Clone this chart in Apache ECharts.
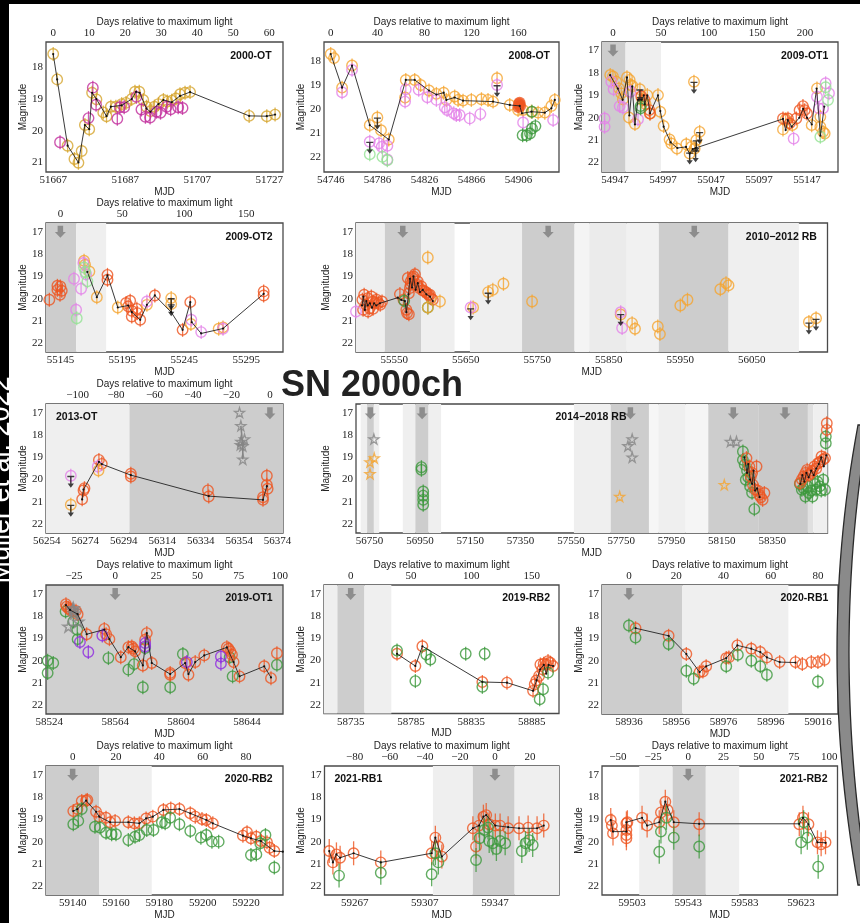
<!DOCTYPE html>
<html><head><meta charset="utf-8">
<script src="https://cdn.jsdelivr.net/npm/echarts@6/dist/echarts.min.js"></script>
<style>html,body{margin:0;padding:0;background:#fff}#c{width:860px;height:923px}</style>
</head><body><div id="c"></div>
<script>
// ---------------- DATA (MJD, magnitude) ----------------
// 2000-OT
const a_gold = [[51667,17.58],[51668.1,18.38],[51671.0,20.47],[51672.9,20.89],[51674.0,21.01],[51674.9,20.64],[51675.8,19.82],[51677.0,19.95],[51677.8,18.8],[51679.0,19.01],[51680.9,19.42],[51681.8,19.54],[51683.0,19.24],[51684.4,19.24],[51686.0,19.16],[51687.2,19.12],[51688.8,19.0],[51689.7,18.77],[51690.9,18.77],[51692.0,19.03],[51692.9,19.24],[51694.0,19.38],[51695.1,19.24],[51696.2,19.16],[51697.6,19.03],[51698.7,19.08],[51699.9,19.05],[51701.1,18.98],[51702.2,18.85],[51703.6,18.8],[51705.0,18.78],[51721.4,19.53],[51726.3,19.54],[51728.6,19.49]];
const a_magenta = [[51668.9,20.36],[51676.8,19.6],[51678.0,18.64],[51678.9,19.18],[51684.8,19.62],[51685.5,19.26],[51686.7,19.26],[51690.1,18.93],[51691.5,19.33],[51692.6,19.56],[51693.9,19.58],[51695.7,19.4],[51696.8,19.43],[51698.5,19.24],[51699.6,19.32],[51701.7,19.26],[51702.9,19.28]];
const a_line = [[51667,17.58],[51668.1,18.38],[51671,20.47],[51674,21.0],[51675.8,19.82],[51677,19.95],[51677.8,18.8],[51679,19.0],[51681.8,19.54],[51683,19.24],[51686,19.2],[51688.8,19.0],[51690,18.77],[51691,18.8],[51692.9,19.3],[51694,19.4],[51696.2,19.16],[51697.6,19.03],[51699.9,19.1],[51702.2,18.9],[51705,18.78],[51721.4,19.53],[51726.3,19.54],[51728.6,19.49]];
// 2008-OT
const b_orange = [[54746,17.69],[54748.8,17.86],[54755.7,19.09],[54764.2,18.17],[54779.3,20.65],[54785.8,20.33],[54788.9,20.86],[54795.5,21.25],[54809.4,19.5],[54810,18.77],[54817.6,18.77],[54822.7,18.98],[54829.8,19.21],[54836.1,19.35],[54842.3,19.3],[54844.6,19.6],[54851.7,19.46],[54854.6,19.6],[54858.8,19.63],[54865.9,19.6],[54874.5,19.57],[54880.1,19.6],[54884.4,19.67],[54887.8,18.7],[54898.6,19.81],[54905.7,20.02],[54910,20.02],[54917.1,20.09],[54922.8,20.13],[54928.5,20.13],[54934.1,19.85],[54937,19.6]];
const b_violet = [[54755.7,19.28],[54764.2,18.35],[54779.3,21.34],[54787.2,21.41],[54789.5,21.55],[54794.3,21.51],[54794.3,22.08],[54809.4,19.67],[54810,19.16],[54821,19.18],[54828.4,19.49],[54836.1,19.6],[54843.2,19.91],[54845.2,20.02],[54850.9,20.16],[54853.1,20.23],[54855.9,20.23],[54864.5,20.37],[54873.6,20.19],[54887.8,18.98],[54910,20.54],[54935.6,20.44],[54940.7,18.39]];
const b_lgreen = [[54779.3,21.86],[54790.1,21.97],[54794.3,22.11]];
const b_green = [[54909.6,21.07],[54913,21.07],[54915.9,21.0],[54917.6,20.79],[54920.5,20.69],[54917.6,20.09]];
const b_red = [[54906.5,19.77],[54907.5,19.85],[54906,19.9],[54907,19.72]];
const b_limits = [[54785.8,20.33],[54779.3,21.34],[54887.8,18.98]];
const b_line = [[54746,17.69],[54755.7,19.09],[54764.2,18.17],[54779.3,20.65],[54795.5,21.25],[54810,18.77],[54817.6,18.77],[54829.8,19.21],[54836.1,19.38],[54842.3,19.3],[54844.6,19.6],[54851.7,19.5],[54858.8,19.63],[54884.4,19.67],[54898.6,19.81],[54907.1,19.85],[54909,20.16],[54917.1,20.09],[54928.5,20.13],[54934.1,19.95],[54937,19.6]];
// 2009-OT1
const c_orange = [[54942.1,18.09],[54944.9,18.16],[54948.4,18.39],[54951.2,18.69],[54953.6,18.91],[54955.3,19.18],[54959.5,18.19],[54962.3,18.31],[54963.3,18.54],[54965.2,18.58],[54961.6,19.99],[54967.8,20.28],[54973.0,18.73],[54975.5,19.21],[54978.9,19.39],[54980.7,18.99],[54983.5,19.81],[54991.8,18.99],[54994.2,19.73],[54997.7,20.37],[55003.9,20.97],[55005.7,21.15],[55011.6,21.37],[55021.3,21.18],[55024.8,21.6],[55026.5,21.3],[55030.0,21.37],[55031.7,21.0],[55035.2,20.63],[55029.3,18.39],[55122.0,20.52],[55124.8,20.07],[55131.7,20.33],[55151.9,20.33],[55157.4,18.69],[55160.9,19.96],[55160.9,20.4],[55163.7,20.63],[55165.4,20.7]];
const c_violet = [[54943.2,18.39],[54945.6,18.73],[54951.9,19.48],[54955.3,19.54],[54963.0,18.84],[54971.0,20.07],[54936.2,20.03],[54936.2,20.4],[55133.1,20.93],[55157.4,19.06],[55159.4,19.58],[55163.7,19.58],[55166.4,18.46],[55169.9,18.91]];
const c_red = [[54974.4,19.04],[54977.8,19.21],[54982.8,19.66],[54983.5,19.81],[55122.0,20.03],[55127.2,20.03],[55128.9,20.25],[55135.9,20.03],[55139.3,19.66],[55142.8,19.48],[55144.6,19.66],[55147.0,19.81]];
const c_green = [[54973.7,19.58],[54973.7,19.48]];
const c_lgreen = [[55166.4,18.64],[55168.9,19.21],[55160.9,20.85]];
const c_limits = [[55029.3,18.39],[54973,18.73],[55031.7,21.0],[55035.2,20.63],[55024.8,21.55],[55031,21.45]];
const c_line = [[54942,18.1],[54950,18.7],[54955,19.2],[54959.5,18.2],[54962,19.9],[54965,18.6],[54967.8,20.3],[54971,19.2],[54975,19.2],[54977,19.0],[54978,19.4],[54980.7,19.0],[54983.5,19.8],[54991.8,19.0],[54994.2,19.7],[54997.7,20.4],[55005,21.1],[55012,21.35],[55021,21.3],[55024.8,21.6],[55028,21.4],[55031,21.35],[55122,20.05],[55124.8,20.55],[55127,20.1],[55131,20.4],[55139,20.0],[55143,19.6],[55147,20.0],[55152,20.3],[55157,18.7],[55161,20.8],[55165,19.5]];
// 2009-OT2
const d_red = [[55136.1,20.04],[55142.6,19.42],[55142.6,19.6],[55144.7,19.82],[55146.1,19.64],[55145,19.45],[55183,18.93],[55183,19.15],[55198,20.19],[55201.3,20.09],[55199.7,20.34],[55202.6,20.54],[55206.7,20.45],[55202.6,20.79],[55207.2,20.64],[55209.4,20.94],[55221.2,19.85],[55243.6,21.39],[55249.8,20.15],[55309,19.67],[55309,19.85]];
const d_orange = [[55164.1,18.3],[55164.9,18.48],[55168.4,18.78],[55174.4,19.93],[55191.3,20.39],[55214.8,20.27],[55234.4,19.97],[55234.4,20.24],[55250.3,21.13],[55272.7,21.34],[55276.2,21.28]];
const d_violet = [[55156,19.1],[55161.7,19.55],[55157.7,20.49],[55163.6,18.4],[55165.7,18.9],[55214.8,20.12],[55250.6,20.94],[55258.6,21.49],[55276.2,21.34]];
const d_lgreen = [[55158.2,20.87],[55164.1,18.6],[55166.8,19.22],[55165.2,18.8]];
const d_limits = [[55234.4,19.97],[55234.4,20.24]];
const d_line = [[55166.8,18.8],[55174.4,19.93],[55183,18.95],[55191.3,20.39],[55199.7,20.3],[55202.6,20.6],[55209.4,20.94],[55214.8,20.27],[55221.2,19.85],[55234.4,20.6],[55243.6,21.39],[55249.8,20.15],[55251,21.05],[55258.6,21.55],[55276.2,21.33],[55309,19.78]];
// 2010-2012 RB
const e_red = [[55505.5,20.04],[55508,19.82],[55510.5,20.27],[55513,19.97],[55515.5,20.42],[55518,19.9],[55520.5,20.12],[55523,20.19],[55525.5,20.04],[55528,20.19],[55530.5,20.27],[55533,20.12],[55506.5,20.49],[55513.5,20.57],[55520.5,20.45],[55558,19.79],[55563,20.04],[55568,20.64],[55567,20.49],[55570.5,20.69],[55570.5,19.75],[55573,19.37],[55575.5,19.07],[55579,18.9],[55583,19.22],[55588,19.45],[55593,19.67],[55598,19.82],[55601.5,19.97],[55604,20.04],[55573,19.22],[55577,19.0],[55582,19.37],[55585,19.52],[55590,19.63],[55595,19.73],[55600,19.82],[55569,19.07],[55572,19.52]];
const e_green = [[55564,20.09],[55597,20.39]];
const e_orange = [[55597,18.15],[55614,20.12],[55597,20.39],[55660.4,20.39],[55681.4,19.7],[55687.9,19.6],[55702.8,19.33],[55742.8,20.12],[55866.7,20.7],[55882.7,21.09],[55886.7,21.34],[55918.6,21.24],[55921.6,21.58],[55950.1,20.3],[55960.1,20.04],[56006,19.57],[56014,19.3],[56017.5,19.4],[56129.9,21.04],[56139.9,20.87]];
const e_violet = [[55496.6,20.57],[55656.9,20.39],[55866.7,20.6],[55868.7,21.31]];
const e_limits = [[55656.9,20.42],[55681.4,19.72],[55866.7,20.68],[56129.9,21.06],[56139.9,20.89]];
const e_line = [[55505,20.3],[55507,19.9],[55509,20.5],[55511,20.1],[55513,20.3],[55516,20.2],[55519,20.4],[55522,20.2],[55525,20.3],[55530,20.2],[55555,19.95],[55560,20.05],[55565,20.1],[55567,20.6],[55570,19.8],[55572,19.1],[55575,19.5],[55577,19.0],[55580,19.6],[55583,19.3],[55586,19.7],[55590,19.6],[55595,19.8],[55600,19.9],[55604,20.1]];
// 2013-OT
const f_red = [[56272.4,20.89],[56273.1,20.49],[56273.6,20.39],[56281.1,19.11],[56282.6,19.29],[56297.7,19.74],[56297.7,19.86],[56337.8,20.49],[56338.2,20.77],[56366.4,20.8],[56366.4,20.92],[56368.4,19.83],[56368.4,20.24],[56368.8,20.42]];
const f_violet = [[56266.5,19.83],[56280.5,19.41]];
const f_orange = [[56266.5,21.14],[56280.9,19.59]];
const f_stars = [[56354.2,16.97],[56354.9,17.57],[56354.9,18.28],[56355.9,18.48],[56356.8,18.17],[56355.9,19.08],[56354.6,18.43]];
const f_starline = [[56354.9,17.57],[56355.9,18.48],[56355.9,19.08]];
const f_limits = [[56266.5,19.83],[56266.5,21.14]];
const f_line = [[56272.4,20.9],[56273.1,20.45],[56281.1,19.2],[56282.6,19.3],[56297.7,19.8],[56338.2,20.75],[56366.4,20.92],[56368.4,20.3]];
// 2014-2018 RB
const g_ostars = [[56751.4,19.21],[56768.5,19.03],[56751.4,19.74],[57743.8,20.77],[58159.7,20.24]];
const g_gstars = [[56767,18.17],[57776.5,18.48],[57793.5,18.17],[57793.5,18.99],[58183.9,18.28],[58208,18.28]];
const g_green = [[56955.9,19.44],[56955.9,19.56],[56963,20.54],[56963,20.73],[56963,20.92],[56963,21.14],[58233.6,18.73],[58233.6,19.11],[58240.7,19.33],[58245,20.01],[58279,21.34],[58250,19.6],[58255,19.9],[58262,20.3],[58270,20.6],[58467.8,20.46],[58482,20.77],[58496,20.61],[58510,20.77],[58524.6,20.46],[58539,20.31],[58553,20.01],[58560,20.46],[58563,18.05],[58563,18.36],[58460,20.2],[58475,20.4],[58490,20.3],[58505,20.5],[58520,20.2],[58545,20.5],[58530,20.1]];
const g_red = [[58247.8,19.03],[58259,19.41],[58265,19.86],[58273.6,20.24],[58287.8,19.41],[58283.6,20.46],[58298,20.69],[58312,20.92],[58319,20.61],[58293,20.5],[58270,19.7],[58305,20.8],[58460.7,20.16],[58475,19.86],[58489,19.56],[58503,19.71],[58517.6,19.41],[58531.7,19.26],[58546,18.96],[58560,19.03],[58567,17.45],[58567,17.75],[58468,20.0],[58482,19.7],[58496,19.8],[58510,19.6],[58525,19.5],[58540,19.2],[58553,19.1]];
const g_line1 = [[58240,19.0],[58250,19.7],[58255,19.3],[58262,20.0],[58270,20.2],[58276,19.6],[58282,20.5],[58290,20.4],[58300,20.8]];
const g_line2 = [[58462,20.2],[58470,19.8],[58478,20.1],[58486,19.7],[58495,19.9],[58505,19.6],[58515,19.8],[58525,19.5],[58535,19.3],[58545,19.0],[58555,19.4],[58565,18.9]];
// 2019-OT1
const h_red = [[58534.1,17.46],[58534.5,17.57],[58535.6,17.64],[58536.6,17.72],[58540.2,17.76],[58541.2,17.91],[58546.7,18.81],[58557.4,18.57],[58558.5,18.81],[58560.5,19.03],[58567.4,19.84],[58572,19.39],[58574.1,19.36],[58575.1,19.46],[58576.1,19.58],[58580.8,20.21],[58582.2,19.06],[58583.2,18.76],[58586.2,20.1],[58597.4,20.63],[58597.4,20.55],[58606.5,20.1],[58608.5,20.63],[58612.6,20.06],[58618.1,19.76],[58631.8,19.39],[58632.8,19.46],[58633.9,19.58],[58634.9,19.73],[58635.9,20.06],[58639.5,20.7],[58654.5,20.25],[58658.6,20.78],[58662.2,19.66]];
const h_green = [[58523,20.0],[58523,20.55],[58526.4,20.1],[58533.9,17.79],[58538.6,18.24],[58541,18.61],[58541.2,19.03],[58559.9,19.88],[58572,20.4],[58575.5,20.15],[58580.8,21.19],[58582.2,19.43],[58597.4,21.19],[58605.1,19.7],[58633.5,19.84],[58635.3,20.7],[58662.2,20.18]];
const h_purple = [[58542.6,19.16],[58547.7,19.61],[58556.2,18.87],[58582.2,19.21],[58582.2,19.36],[58607.5,20.06],[58628.2,19.81],[58628.2,20.13]];
const h_stars = [[58538.6,17.64],[58539,17.87],[58535.6,18.46],[58541.6,18.24],[58539,17.76],[58538.2,17.7]];
const h_line = [[58534.1,17.5],[58536.6,17.72],[58541.2,17.91],[58546.7,18.81],[58557.4,18.6],[58560.5,19.03],[58567.4,19.84],[58572,19.39],[58576.1,19.58],[58580.8,20.21],[58583.2,18.76],[58586.2,20.1],[58597.4,20.6],[58606.5,20.1],[58608.5,20.6],[58612.6,20.06],[58618.1,19.76],[58631.8,19.4],[58635.9,20.06],[58639.5,20.7],[58654.5,20.25],[58658.6,20.75]];
// 2019-RB2
const i_red = [[58773.4,19.7],[58788.6,20.25],[58794.4,19.36],[58844.1,20.97],[58864.5,21.0],[58886.1,21.37],[58887.5,21.07],[58888.8,20.9],[58891.1,20.7],[58892.2,20.18],[58894.9,20.15],[58897.1,20.18],[58898.5,20.03],[58900.4,20.1],[58902.7,20.25],[58893.8,20.4]];
const i_green = [[58773.4,19.55],[58788.6,20.93],[58797.7,19.73],[58801,19.96],[58830.3,19.7],[58846,19.7],[58844.1,21.19],[58891.6,21.75],[58894.4,21.3],[58898.5,20.55]];
const i_line = [[58773.4,19.7],[58788.6,20.25],[58794.4,19.36],[58844.1,20.97],[58864.5,21.0],[58886.1,21.37],[58889,20.9],[58892,20.4],[58895,20.2],[58897,20.6],[58899,20.2],[58902.7,20.25]];
// 2020-RB1
const j_red = [[58938.8,18.54],[58952.8,18.88],[58960.3,19.7],[58965.9,20.51],[58967.3,20.48],[58968.7,20.25],[58977.2,19.88],[58978.3,19.85],[58981.9,19.31],[58987.8,19.46],[58991.6,19.61],[58994.4,19.85],[58999.8,20.06],[59006.5,20.06],[59009.4,20.15],[59013.2,20.06],[59016,20.06],[59018.8,19.96]];
const j_green = [[58936,18.42],[58938.8,18.96],[58952.8,19.25],[58960.3,20.45],[58963.4,20.81],[58977.2,20.25],[58982.1,19.73],[58987.8,20.0],[58991.6,20.25],[58994.4,20.63],[59016,20.93]];
const j_line = [[58938.8,18.54],[58952.8,18.88],[58960.3,19.7],[58965.9,20.51],[58968.7,20.25],[58977.2,19.88],[58981.9,19.31],[58987.8,19.46],[58991.6,19.61],[58994.4,19.85],[58999.8,20.06],[59006.5,20.08]];
// 2020-RB2
const k_red = [[59140.3,18.63],[59142.2,18.54],[59144.2,18.18],[59146.2,18.16],[59146.8,18.13],[59150.8,18.66],[59152.3,18.88],[59155.4,18.93],[59157.3,19.13],[59159.6,19.07],[59165.7,19.13],[59168.5,19.18],[59170.8,19.18],[59173.9,18.96],[59177,18.88],[59181.9,18.58],[59185.3,18.51],[59189.3,18.54],[59194.3,18.73],[59196.6,18.88],[59199.7,18.99],[59201.7,19.03],[59204.7,19.18],[59218.6,19.73],[59220.5,19.58],[59222.3,19.85],[59224.8,19.78],[59226.9,19.97],[59229.7,20.03],[59230.9,20.27],[59233.1,20.42]];
const k_green = [[59140.3,19.22],[59142.6,19.07],[59144.2,18.54],[59150.3,19.33],[59152.6,19.37],[59155.4,19.6],[59158,19.67],[59160,19.67],[59165.7,19.93],[59168.8,19.78],[59170.8,19.7],[59174.2,19.48],[59177.3,19.48],[59181.2,19.13],[59182.7,19.18],[59185,18.93],[59189.3,19.22],[59194.3,19.52],[59199.2,19.82],[59201.7,19.7],[59204.3,20.0],[59207.4,20.0],[59222.3,20.6],[59224.8,20.57],[59226.6,20.07],[59229,19.7],[59233.1,21.16]];
const k_line = [[59140.3,18.63],[59142.2,18.54],[59146.2,18.16],[59150.8,18.66],[59152.3,18.88],[59157.3,19.13],[59165.7,19.13],[59170.8,19.18],[59173.9,18.96],[59177,18.88],[59181.9,18.58],[59189.3,18.54],[59194.3,18.73],[59201.7,19.03],[59204.7,19.18],[59218.6,19.73],[59222.3,19.85],[59226.9,19.97],[59233.1,20.42],[59237,20.45]];
// 2021-RB1
const l_red = [[59252.5,20.42],[59254.6,20.93],[59256.6,20.57],[59258.7,20.72],[59266.4,20.52],[59281.9,20.93],[59310.9,20.52],[59313,19.82],[59314.7,20.22],[59316.7,20.67],[59334.4,19.4],[59336.2,20.22],[59337.9,19.28],[59340.4,18.88],[59342,18.81],[59343.7,19.22],[59347.2,19.28],[59349.9,19.28],[59354.5,19.4],[59360.7,19.4],[59365.9,19.37],[59371,19.4],[59374.8,19.28]];
const l_green = [[59258.1,21.52],[59281.9,21.39],[59310.9,21.46],[59313,20.52],[59314.7,20.93],[59336.2,20.82],[59338.2,19.85],[59340.9,19.48],[59343,19.37],[59343.7,19.97],[59345.8,20.07],[59347.8,20.33],[59349.9,19.97],[59352.8,20.07],[59362.3,20.42],[59364.4,20.07],[59366.5,19.93],[59368.5,20.15]];
const l_line = [[59252.5,20.42],[59254.6,20.93],[59256.6,20.57],[59258.7,20.72],[59266.4,20.52],[59281.9,20.93],[59310.9,20.52],[59313,19.82],[59316.7,20.67],[59334.4,19.4],[59337.9,19.28],[59340.4,18.88],[59342,18.81],[59347.2,19.28],[59354.5,19.35],[59360.7,19.4],[59371,19.4],[59374.8,19.28]];
// 2021-RB2
const m_red = [[59488,19.03],[59488.8,19.28],[59489.6,19.63],[59499.1,19.18],[59499.1,19.48],[59499.1,19.7],[59499.1,19.85],[59499.8,19.13],[59510.2,18.93],[59513.8,19.28],[59522.4,19.13],[59523.6,18.69],[59526.7,18.21],[59528.3,18.58],[59532.7,19.13],[59550.7,19.22],[59621.7,19.22],[59624.3,18.93],[59628.2,19.22],[59634.6,20.03],[59637.2,20.12],[59640.3,20.03]];
const m_green = [[59523.6,19.55],[59522.4,20.45],[59527.5,18.93],[59532.7,19.82],[59550.7,20.22],[59623,20.03],[59624.8,19.13],[59627.4,19.82],[59635.1,21.12]];
const m_line = [[59488,19.03],[59489.6,19.55],[59499.1,19.55],[59499.1,19.13],[59510.2,18.93],[59513.8,19.28],[59522.4,19.13],[59526.7,18.21],[59532.7,19.13],[59550.7,19.2],[59621.7,19.2],[59624.3,18.93],[59628.2,19.22],[59634.6,20.03],[59640.3,20.05]];

// ---------------- STYLE ----------------
const COL = {gold:'#D6A52E', orange:'#F5A531', red:'#EE5520', violet:'#E382E8', magenta:'#C22E9C', green:'#3C993C', lgreen:'#93E293', purple:'#8E2BE0', grey:'#858585'};
const DARK = '#cdcdcd', LIGHT = '#efefef';
const ULIM = 'path://M0,0H8V1.6H4.8V9H7.6L4,14L0.4,9H3.2V1.6H0Z';
const MAXA = 'path://M3,0H9V6.5H12L6,12.5L0,6.5H3Z';
const STAR = 'path://M50,2L61,37L98,37L68,59L79,94L50,73L21,94L32,59L2,37L39,37Z';
const TICKFONT = {fontFamily:'Liberation Serif', fontSize:11, color:'#222'};
const NAMEFONT = {fontFamily:'Liberation Sans', fontSize:10, color:'#222'};

const option = {backgroundColor:'#fff', animation:false, grid:[], xAxis:[], yAxis:[], series:[], graphic:[]};
const minus = v => String(v).replace('-', '\u2212');
const plain = v => String(v);

function addPanel(p){
  const gi = option.grid.length;
  option.grid.push({left:p.box[0], top:p.box[1], width:p.box[2], height:p.box[3], show:true,
    borderColor:'#4a4a4a', borderWidth:1.3, backgroundColor:p.bg || '#fff'});
  const xi = option.xAxis.length;
  option.xAxis.push({type:'value', gridIndex:gi, position:'bottom', min:p.x[0], max:p.x[1],
    name:'MJD', nameLocation:'middle', nameGap:12, nameTextStyle:NAMEFONT,
    axisLine:{show:false}, axisTick:{show:false}, splitLine:{show:false},
    axisLabel:Object.assign({customValues:p.xticks, margin:3, formatter:plain}, TICKFONT)});
  if (p.day !== undefined) {
    option.xAxis.push({type:'value', gridIndex:gi, position:'top', min:p.x[0]-p.day, max:p.x[1]-p.day,
      name:'Days relative to maximum light', nameLocation:'middle', nameGap:13, nameTextStyle:NAMEFONT,
      axisLine:{show:false}, axisTick:{show:false}, splitLine:{show:false},
      axisLabel:Object.assign({customValues:p.dticks, margin:3, formatter:minus}, TICKFONT)});
  }
  const yi = option.yAxis.length;
  option.yAxis.push({type:'value', gridIndex:gi, inverse:true, min:p.y[0], max:p.y[1],
    name:'Magnitude', nameLocation:'middle', nameGap:17, nameTextStyle:NAMEFONT,
    axisLine:{show:false}, axisTick:{show:false}, splitLine:{show:false},
    axisLabel:Object.assign({customValues:p.yticks, margin:3, formatter:plain}, TICKFONT)});
  const base = {xAxisIndex:xi, yAxisIndex:yi, silent:true, animation:false};
  if (p.bands) option.series.push(Object.assign({type:'line', data:[], z:1,
    markArea:{silent:true, data:p.bands.map(b => [{xAxis:b[0], itemStyle:{color:b[2]}}, {xAxis:b[1]}])}}, base));
  if (p.arrows) option.series.push(Object.assign({type:'scatter', z:2, symbol:MAXA, symbolSize:[11,12],
    itemStyle:{color:'#7d7d7d'}, data:p.arrows.map(a => [a, 17.0])}, base));
  (p.sets || []).forEach(s => {
    if (s.sym) {
      option.series.push(Object.assign({type:'scatter', z:3, symbol:s.sym, symbolSize:s.size,
        itemStyle:{color:'rgba(0,0,0,0)', borderColor:s.color, borderWidth:s.bw || 1.3}, data:s.data}, base));
      return;
    }
    if (s.filled) {
      option.series.push(Object.assign({type:'scatter', z:3, symbol:'circle', symbolSize:12, itemStyle:{color:s.color}, data:s.data}, base));
      return;
    }
    option.series.push(Object.assign({type:'scatter', z:3, symbol:'rect', symbolSize:[1.3, p.longErr ? 24 : 14],
      itemStyle:{color:s.color}, data:s.data}, base));
    option.series.push(Object.assign({type:'scatter', z:3, symbol:'circle', symbolSize:10.5,
      itemStyle:{color:'rgba(0,0,0,0)', borderColor:s.color, borderWidth:1.4}, data:s.data}, base));
  });
  (p.lines || []).forEach(l => {
    option.series.push(Object.assign({type:'line', z:4, data:l.data, symbol:'circle', symbolSize:l.dot === 0 ? 0 : 2.2,
      lineStyle:{color:l.color || '#222', width:l.width || 0.9}, itemStyle:{color:l.color || '#111'}}, base));
  });
  if (p.limits) option.series.push(Object.assign({type:'scatter', z:5, symbol:ULIM, symbolSize:[7,12],
    symbolOffset:[0,'50%'], itemStyle:{color:'#111'}, data:p.limits}, base));
  const L = p.label;
  option.graphic.push({type:'text', z:50, x:L[1], y:L[2], style:{text:L[0], fontFamily:'Liberation Sans',
    fontWeight:'bold', fontSize:10.5, fill:'#111', align:L[3] || 'right', verticalAlign:'middle'}});
}

const Y5 = [17,18,19,20,21,22];
addPanel({box:[46,42,237,130], x:[51665,51730.8], xticks:[51667,51687,51707,51727], day:51667, dticks:[0,10,20,30,40,50,60],
  y:[17.2,21.3], yticks:[18,19,20,21], label:['2000-OT',271.7,55.7],
  sets:[{data:a_gold,color:COL.gold},{data:a_magenta,color:COL.magenta}], lines:[{data:a_line}]});
addPanel({box:[324,42,235,130], x:[54740.3,54940.6], xticks:[54746,54786,54826,54866,54906], day:54746, dticks:[0,40,80,120,160],
  y:[17.19,22.6], yticks:[18,19,20,21,22], label:['2008-OT',550,55.7],
  sets:[{data:b_orange,color:COL.orange},{data:b_violet,color:COL.violet},{data:b_lgreen,color:COL.lgreen},{data:b_green,color:COL.green},{data:b_red,color:COL.red,filled:true}],
  lines:[{data:b_line}], limits:b_limits});
addPanel({box:[602,42,236,130], x:[54933.5,55179.3], xticks:[54947,54997,55047,55097,55147], day:54945, dticks:[0,50,100,150,200],
  y:[16.62,22.42], yticks:Y5, label:['2009-OT1',828.3,55.7], bands:[[54933.5,54958,DARK],[54958,54995,LIGHT]], arrows:[54945],
  sets:[{data:c_orange,color:COL.orange},{data:c_violet,color:COL.violet},{data:c_red,color:COL.red},{data:c_green,color:COL.green},{data:c_lgreen,color:COL.lgreen}],
  lines:[{data:c_line}], limits:c_limits});
addPanel({box:[46,223,237,129], x:[55133.4,55324.6], xticks:[55145,55195,55245,55295], day:55145, dticks:[0,50,100,150],
  y:[16.61,22.38], yticks:Y5, label:['2009-OT2',272.7,236.7], bands:[[55133.4,55157.7,DARK],[55157.7,55181.9,LIGHT]], arrows:[55145],
  sets:[{data:d_red,color:COL.red},{data:d_orange,color:COL.orange},{data:d_violet,color:COL.violet},{data:d_lgreen,color:COL.lgreen}],
  lines:[{data:d_line}], limits:d_limits});
addPanel({box:[356,223,471.5,129], x:[55496.6,56155.9], xticks:[55550,55650,55750,55850,55950,56050],
  y:[16.61,22.38], yticks:Y5, label:['2010\u22122012 RB',816.8,236.7],
  bands:[[55496.6,55537,LIGHT],[55537,55587.5,DARK],[55587.5,55634.4,LIGHT],[55655.9,55728.8,LIGHT],[55728.8,55802.2,DARK],[55802.2,55822.7,'#f4f4f4'],[55822.7,55875.2,'#ebebeb'],[55875.2,55920.1,'#f1f1f1'],[55920.1,56017.5,DARK],[56017.5,56115.9,LIGHT]],
  arrows:[55562,55765.3,55969.6],
  sets:[{data:e_red,color:COL.red},{data:e_green,color:COL.green},{data:e_orange,color:COL.orange},{data:e_violet,color:COL.violet}],
  lines:[{data:e_line}], limits:e_limits});
addPanel({box:[46,404,237,129], x:[56253.6,56376.8], xticks:[56254,56274,56294,56314,56334,56354,56374], day:56370, dticks:[-100,-80,-60,-40,-20,0],
  y:[16.58,22.42], yticks:Y5, label:['2013-OT',56,416.7,'left'], bands:[[56253.6,56297,LIGHT],[56297,56376.8,DARK]], arrows:[56370],
  sets:[{data:f_red,color:COL.red},{data:f_violet,color:COL.violet},{data:f_orange,color:COL.orange},{data:f_stars,color:COL.grey,sym:STAR,size:10,bw:1.3}],
  lines:[{data:f_line},{data:f_starline,color:COL.grey,width:1.6,dot:0}], limits:f_limits});
addPanel({box:[356,404,471.5,129], x:[56695.9,58569.8], xticks:[56750,56950,57150,57350,57550,57750,57950,58150,58350],
  y:[16.58,22.42], yticks:Y5, label:['2014\u22122018 RB',591,416.7,'center'],
  bands:[[56714.5,56740.1,LIGHT],[56740.1,56767,DARK],[56767,56788.3,LIGHT],[56882,56931.7,LIGHT],[56931.7,56984.3,DARK],[56984.3,57034,LIGHT],[57562,57708.3,LIGHT],[57708.3,57860.2,DARK],[57860.2,57897.1,'#f6f6f6'],[57897.1,58006.4,LIGHT],[58006.4,58095.9,'#f5f5f5'],[58095.9,58294.6,DARK],[58294.6,58491.9,'#c9c9c9'],[58491.9,58513.3,'#e0e0e0'],[58513.3,58569.8,LIGHT]],
  arrows:[56752.8,56958.7,57786.4,58195.3,58401.1],
  sets:[{data:g_green,color:COL.green},{data:g_red,color:COL.red},{data:g_ostars,color:COL.orange,sym:STAR,size:10,bw:1.3},{data:g_gstars,color:COL.grey,sym:STAR,size:10,bw:1.3}],
  lines:[{data:g_line1},{data:g_line2}]});
addPanel({box:[46,585,237,129], x:[58522,58665.9], xticks:[58524,58564,58604,58644], day:58564, dticks:[-25,0,25,50,75,100],
  y:[16.6,22.39], yticks:Y5, label:['2019-OT1',272.7,598.3], bg:'#d0d0d0', arrows:[58564],
  sets:[{data:h_green,color:COL.green},{data:h_red,color:COL.red},{data:h_purple,color:COL.purple},{data:h_stars,color:COL.grey,sym:STAR,size:11,bw:1.5}],
  lines:[{data:h_line}]});
addPanel({box:[324,585,235,128.5], x:[58712.9,58907.6], xticks:[58735,58785,58835,58885], day:58735, dticks:[0,50,100,150],
  y:[16.6,22.39], yticks:Y5, label:['2019-RB2',550,598.3], bands:[[58712.9,58724,LIGHT],[58724,58746.4,DARK],[58746.4,58768.7,LIGHT]], arrows:[58735],
  sets:[{data:i_red,color:COL.red},{data:i_green,color:COL.green}], lines:[{data:i_line}]});
addPanel({box:[602,585,236,129], x:[58924.6,59024.5], xticks:[58936,58956,58976,58996,59016], day:58936, dticks:[0,20,40,60,80],
  y:[16.6,22.39], yticks:Y5, label:['2020-RB1',828.3,598.3], bands:[[58924.6,58958.6,DARK],[58958.6,59003.5,LIGHT]], arrows:[58936],
  sets:[{data:j_red,color:COL.red},{data:j_green,color:COL.green}], lines:[{data:j_line}]});
addPanel({box:[46,766,237,129], x:[59127.7,59237.1], xticks:[59140,59160,59180,59200,59220], day:59140, dticks:[0,20,40,60,80],
  y:[16.61,22.39], yticks:Y5, label:['2020-RB2',272.7,779.3], bands:[[59127.7,59152.2,DARK],[59152.2,59176.5,LIGHT]], arrows:[59140],
  sets:[{data:k_red,color:COL.red},{data:k_green,color:COL.green}], lines:[{data:k_line}]});
addPanel({box:[324.5,766,234.5,129], x:[59249.8,59383.5], xticks:[59267,59307,59347], day:59347, dticks:[-80,-60,-40,-20,0,20],
  y:[16.61,22.39], yticks:Y5, label:['2021-RB1',334.4,779.3,'left'], longErr:true,
  bands:[[59311.6,59334.4,LIGHT],[59334.4,59358.2,DARK],[59358.2,59383.5,LIGHT]], arrows:[59347],
  sets:[{data:l_red,color:COL.red},{data:l_green,color:COL.green}], lines:[{data:l_line}]});
addPanel({box:[602,766,235.5,129], x:[59481.8,59648.8], xticks:[59503,59543,59583,59623], day:59543, dticks:[-50,-25,0,25,50,75,100],
  y:[16.61,22.39], yticks:Y5, label:['2021-RB2',827.5,779.3], longErr:true,
  bands:[[59508.2,59531.9,LIGHT],[59531.9,59555.4,DARK],[59555.4,59579.1,LIGHT]], arrows:[59543],
  sets:[{data:m_red,color:COL.red},{data:m_green,color:COL.green}], lines:[{data:m_line}]});

// decorative crescent on the right edge (page decoration, not data)
function qpts(p0, c, p1, n){ const r=[]; for(let i=0;i<=n;i++){const t=i/n,u=1-t; r.push([u*u*p0[0]+2*u*t*c[0]+t*t*p1[0], u*u*p0[1]+2*u*t*c[1]+t*t*p1[1]]);} return r; }
const swoosh = qpts([858,425],[816,650],[858,885],30).concat(qpts([868,885],[830,650],[868,425],30));

option.graphic.push(
  {type:'rect', z:60, shape:{x:0,y:0,width:860,height:4}, style:{fill:'#000'}},
  {type:'rect', z:60, shape:{x:0,y:0,width:9,height:923}, style:{fill:'#000'}},
  {type:'text', z:61, x:2, y:480, rotation:Math.PI/2, style:{text:'Muller et al. 2022', fill:'#fff',
    fontFamily:'Liberation Sans', fontSize:27, align:'center', verticalAlign:'middle'}},
  {type:'text', z:61, x:372, y:386, style:{text:'SN 2000ch', fill:'#222', fontFamily:'Liberation Sans',
    fontWeight:'bold', fontSize:36, align:'center', verticalAlign:'middle'}},
  {type:'polygon', z:61, shape:{points:swoosh}, style:{fill:'#8a8a8a', stroke:'#2a2a2a', lineWidth:1.3}}
);

const chart = echarts.init(document.getElementById('c'), null, {renderer:'canvas'});
chart.setOption(option);
</script></body></html>
